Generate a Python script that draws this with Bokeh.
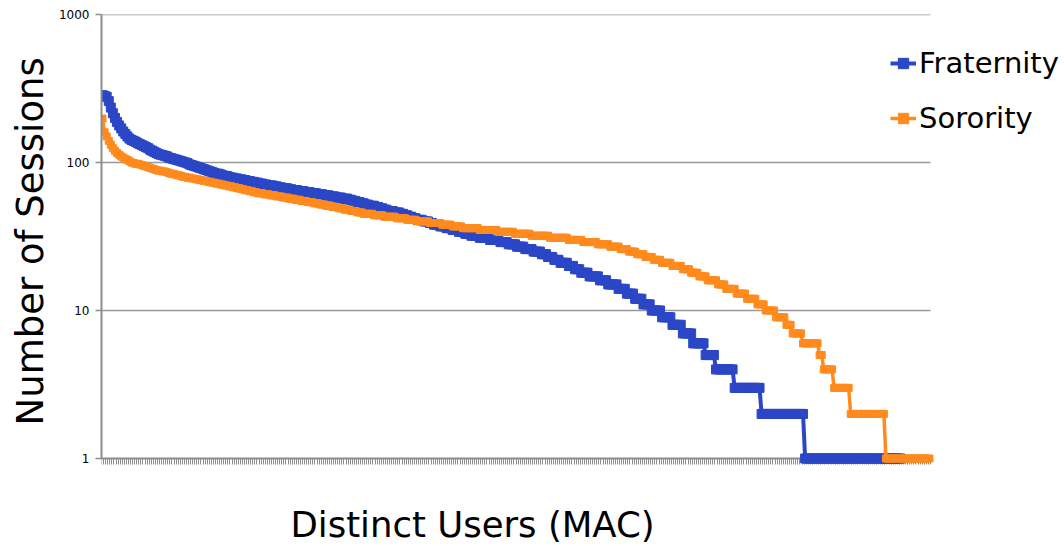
import numpy as np
from bokeh.plotting import figure
from bokeh.models import (FixedTicker, CustomJSTickFormatter, Legend, LegendItem,
                          Title, Range1d, ColumnDataSource, Label)
from bokeh.embed import file_html
from bokeh.resources import INLINE

# ---------------- data (rank-ordered users) ----------------
# Fraternity: first users individually, then run-length encoded (value, repeat count)
frat_head = [285, 282, 278, 260, 235, 215, 200, 188, 178, 170, 162, 156, 150, 145, 142,
             140, 138, 135, 133,
             131, 129, 127, 125, 122, 120, 118, 116, 114,
             113, 112, 111, 110, 108, 107, 106,
             105, 104, 103, 102, 101, 100, 99, 97, 96,
             95, 94, 93, 92,
             91, 90, 89, 88, 87, 86, 85, 84, 84, 83, 82, 81, 81, 80, 79, 79, 78, 78, 77, 77]
frat_levels = [76, 75, 74, 73, 72, 71, 70, 69, 68, 67, 66,
               65, 64, 63, 62, 61, 60, 59,
               58, 57, 56, 55, 54, 53, 52,
               51, 50, 49, 48, 47, 46, 45,
               44, 43, 42, 41, 40, 39, 38,
               37, 36, 35, 34, 33,
               32, 31, 30, 29,
               28, 27, 26, 25,
               24, 23, 22, 21, 20, 19, 18, 17, 16, 15, 14, 13, 12, 11, 10, 9, 8, 7, 6, 5, 4, 3, 2, 1]
frat_runs = [2, 2, 2, 2, 2, 2, 3, 2, 2, 3, 2,
             3, 3, 3, 3, 3, 3, 3,
             3, 3, 2, 2, 2, 2, 2,
             3, 2, 2, 2, 3, 3, 2,
             2, 2, 2, 3, 3, 2, 3,
             3, 3, 3, 3, 3,
             4, 5, 5, 4,
             4, 4, 4, 4,
             3, 3, 3, 4, 3, 3, 4, 5, 4, 5, 4, 4, 4, 4, 5, 5, 5, 5, 6, 5, 9, 13, 21, 47]

# Sorority
sor_head = [198, 160, 150, 140, 132, 125, 120, 116, 113, 110, 108, 106, 104, 102, 100,
            99, 98, 98, 97, 96, 95, 94, 93, 92, 91, 90,
            89, 88, 88, 87, 87, 86,
            85, 84, 84, 83, 82, 82, 81,
            80, 80, 79, 79, 78, 78]
sor_levels = [77, 76, 75, 74, 73, 72, 71, 70, 69, 68, 67, 66,
              65, 64, 63, 62, 61, 60,
              59, 58, 57, 56,
              55, 54, 53, 52, 51,
              50, 49, 48, 47, 46,
              45, 44, 43, 42, 41, 40, 39, 38, 37,
              36, 35, 34, 33, 32, 31, 30, 29,
              28, 27, 26, 25, 24, 23, 22, 21, 20, 19, 18, 17, 16, 15, 14, 13, 12, 11, 10,
              9, 8, 7, 6, 5, 4, 3, 2, 1]
sor_runs = [2, 2, 2, 2, 2, 2, 2, 2, 2, 2, 2, 2,
            2, 2, 2, 3, 3, 3,
            3, 3, 3, 3,
            3, 3, 3, 3, 3,
            3, 3, 3, 3, 3,
            5, 5, 6, 5, 5, 6, 6, 5, 5,
            8, 9, 8, 8, 9, 9, 7, 7,
            6, 5, 4, 4, 4, 4, 4, 5, 5, 4, 4, 4, 5, 4, 5, 5, 5, 4, 5,
            5, 3, 5, 8, 2, 5, 8, 17, 22]

y_ticks = [1, 10, 100, 1000]
grid_values = [10, 100, 1000]
y_min, y_max = 1, 1000

fraternity = list(frat_head) + list(np.repeat(frat_levels, frat_runs))
sorority = list(sor_head) + list(np.repeat(sor_levels, sor_runs))
n_users = max(len(fraternity), len(sorority))

src_f = ColumnDataSource(dict(x=list(range(len(fraternity))), y=fraternity))
src_s = ColumnDataSource(dict(x=list(range(len(sorority))), y=sorority))

BLUE = "#2B47C6"
ORANGE = "#FF8A1E"
GRAY = "#8c8c8c"
FONT = "DejaVu Sans"

# layout: axes occupy x 101..930 and y 14..458 of a frame that fills the page,
# so that legend and x-axis title can sit inside the frame
W, H = 1064, 546
LEFT, TOP = 101, 14
AXIS_BOTTOM = 458
frame_w = W - LEFT
axis_px = 829
x_end = -0.5 + n_users * frame_w / axis_px
px_per_decade = (AXIS_BOTTOM - TOP) / np.log10(y_max / y_min)
y_start = y_min * 10 ** (-(H - AXIS_BOTTOM) / px_per_decade)

p = figure(width=W, height=H, y_axis_type="log", x_axis_location="above",
           x_range=Range1d(-0.5, x_end), y_range=Range1d(y_start, y_max),
           output_backend="svg", toolbar_location=None,
           min_border_left=LEFT, min_border_right=0, min_border_top=TOP,
           min_border_bottom=0)
p.outline_line_color = None
p.background_fill_color = "white"

# grid lines (only as wide as the category axis)
p.xgrid.visible = False
p.ygrid.visible = False
p.segment(x0=[-0.5] * len(grid_values), x1=[n_users - 0.5] * len(grid_values),
          y0=grid_values, y1=grid_values, line_color="#999999", line_width=1.5)

# y axis
p.yaxis.bounds = (y_min, y_max)
p.yaxis.ticker = FixedTicker(ticks=y_ticks, minor_ticks=[])
p.yaxis.formatter = CustomJSTickFormatter(code="return String(Math.round(tick))")
p.yaxis.axis_line_color = GRAY
p.yaxis.axis_line_width = 2
p.yaxis.major_tick_line_color = GRAY
p.yaxis.major_tick_line_width = 1.5
p.yaxis.major_tick_out = 6
p.yaxis.major_tick_in = 0
p.yaxis.minor_tick_line_color = None
p.yaxis.major_label_text_font = FONT
p.yaxis.major_label_text_font_size = "12px"
p.yaxis.major_label_text_color = "black"
p.yaxis.major_label_standoff = 6

p.add_layout(Title(text="Number of Sessions", align="left", offset=33 + (H - AXIS_BOTTOM),
                   text_font=FONT, text_font_size="37px", text_font_style="normal",
                   text_color="black", standoff=8), "left")

# x axis drawn at y = 1: one tick between every user, no labels
xax = p.xaxis[0]
xax.fixed_location = y_min
xax.level = "underlay"
xax.bounds = (-0.5, n_users - 0.5)
xax.ticker = FixedTicker(ticks=[k - 0.5 for k in range(n_users + 1)], minor_ticks=[])
xax.formatter = CustomJSTickFormatter(code="return ''")
xax.axis_line_color = GRAY
xax.axis_line_width = 2
xax.major_tick_line_color = GRAY
xax.major_tick_line_width = 1
xax.major_tick_out = 0
xax.major_tick_in = 6
xax.minor_tick_line_color = None
xax.major_label_text_font_size = "1px"
xax.major_label_standoff = 0

p.add_layout(Label(x=189, y=22, x_units="screen", y_units="screen",
                   text="Distinct Users (MAC)", text_align="left",
                   text_baseline="alphabetic", text_font=FONT,
                   text_font_size="35.5px", text_color="black"))

# series
fl = p.line("x", "y", source=src_f, line_color=BLUE, line_width=4)
fs = p.scatter("x", "y", source=src_f, marker="square", size=9,
               fill_color=BLUE, line_color=BLUE)
sl = p.line("x", "y", source=src_s, line_color=ORANGE, line_width=3.5)
ss = p.scatter("x", "y", source=src_s, marker="square", size=7,
               fill_color=ORANGE, line_color=ORANGE)

legend = Legend(items=[LegendItem(label="Fraternity", renderers=[fl, fs]),
                       LegendItem(label="Sorority", renderers=[sl, ss])],
                location=(789, H - 135),
                label_text_font=FONT, label_text_font_size="29px", label_text_color="black",
                glyph_width=26, glyph_height=30, label_height=30, spacing=21,
                padding=0, margin=0, label_standoff=3,
                border_line_color=None, background_fill_alpha=0)
p.add_layout(legend, "center")

open("out.html", "w").write(file_html(p, INLINE))
